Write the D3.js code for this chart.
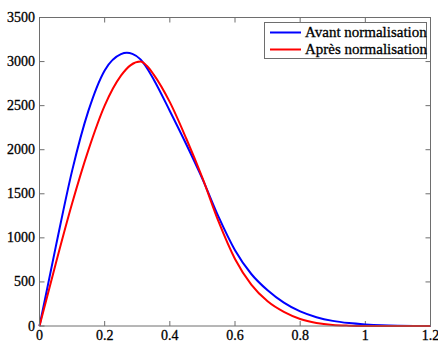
<!DOCTYPE html>
<html><head><meta charset="utf-8">
<script src="https://d3js.org/d3.v7.min.js"></script>
<style>body{margin:0;background:#fff}svg{display:block}</style>
</head><body><svg id="c" width="438" height="342"></svg>
<script>
const xTicks = [0, 0.2, 0.4, 0.6, 0.8, 1, 1.2];
const yTicks = [0, 500, 1000, 1500, 2000, 2500, 3000, 3500];
const seriesNames = ["Avant normalisation", "Après normalisation"];
const seriesColors = ["#0000ff", "#ff0000"];
const blueX = [0, 0.05, 0.10, 0.15, 0.20, 0.25, 0.268, 0.285, 0.31, 0.33, 0.35, 0.40, 0.45, 0.50, 0.55, 0.60, 0.65, 0.70, 0.75, 0.80, 0.85, 0.90, 0.95, 1.00, 1.05, 1.10, 1.15, 1.20];
const blueY = [0, 900, 1760, 2440, 2900, 3085, 3100, 3088, 3025, 2925, 2800, 2440, 2065, 1670, 1235, 860, 590, 405, 265, 165, 100, 58, 33, 18, 8, 3, 1, 0];
const redX = [0, 0.05, 0.10, 0.15, 0.20, 0.25, 0.28, 0.31, 0.33, 0.35, 0.40, 0.45, 0.50, 0.55, 0.60, 0.65, 0.70, 0.75, 0.80, 0.85, 0.90, 0.95, 1.00, 1.10, 1.20];
const redY = [0, 710, 1390, 1995, 2500, 2840, 2960, 3000, 2950, 2855, 2540, 2130, 1680, 1180, 760, 470, 280, 160, 80, 35, 12, 4, 1, 0, 0];

const FONT = "Liberation Serif";
const svg = d3.select("#c");
const L = 39.5, R = 430.5, T = 17.5, B = 326;
const x = d3.scaleLinear().domain([0, 1.2]).range([L, R]);
const y = d3.scaleLinear().domain([0, 3500]).range([B, T]);
const axisCol = "#6e6e6e";

function label(sel) {
  return sel.attr("font-family", FONT).attr("fill", "#000").attr("stroke", "#000").attr("stroke-width", 0.3);
}

const g = svg.append("g");
xTicks.forEach(v => {
  g.append("line").attr("x1", x(v)).attr("x2", x(v)).attr("y1", B).attr("y2", B - 5).attr("stroke", axisCol);
  g.append("line").attr("x1", x(v)).attr("x2", x(v)).attr("y1", T).attr("y2", T + 5).attr("stroke", axisCol);
  label(g.append("text")).attr("x", x(v)).attr("y", 340).attr("text-anchor", "middle").attr("font-size", 14).text(String(v));
});
yTicks.forEach(v => {
  g.append("line").attr("x1", L).attr("x2", L + 5).attr("y1", y(v)).attr("y2", y(v)).attr("stroke", axisCol);
  g.append("line").attr("x1", R).attr("x2", R - 5).attr("y1", y(v)).attr("y2", y(v)).attr("stroke", axisCol);
  label(g.append("text")).attr("x", 35).attr("y", y(v) + 4.5).attr("text-anchor", "end").attr("font-size", 14).text(String(v));
});

const line = d3.line().x(d => x(d[0])).y(d => y(d[1])).curve(d3.curveMonotoneX);
const series = [d3.zip(blueX, blueY), d3.zip(redX, redY)];
series.forEach((s, i) => {
  svg.append("path").attr("d", line(s)).attr("fill", "none").attr("stroke", seriesColors[i]).attr("stroke-width", 2);
});

svg.append("rect").attr("x", L).attr("y", T).attr("width", R - L).attr("height", B - T).attr("fill", "none").attr("stroke", axisCol);

const lg = svg.append("g");
lg.append("rect").attr("x", 264.5).attr("y", 22.5).attr("width", 162).attr("height", 36).attr("fill", "#fff").attr("stroke", axisCol);
seriesNames.forEach((n, i) => {
  const yy = 32.5 + i * 17;
  lg.append("line").attr("x1", 270).attr("x2", 301).attr("y1", yy).attr("y2", yy).attr("stroke", seriesColors[i]).attr("stroke-width", 2);
  label(lg.append("text")).attr("x", 305).attr("y", yy + 4.5).attr("font-size", 15).text(n);
});
</script></body></html>
